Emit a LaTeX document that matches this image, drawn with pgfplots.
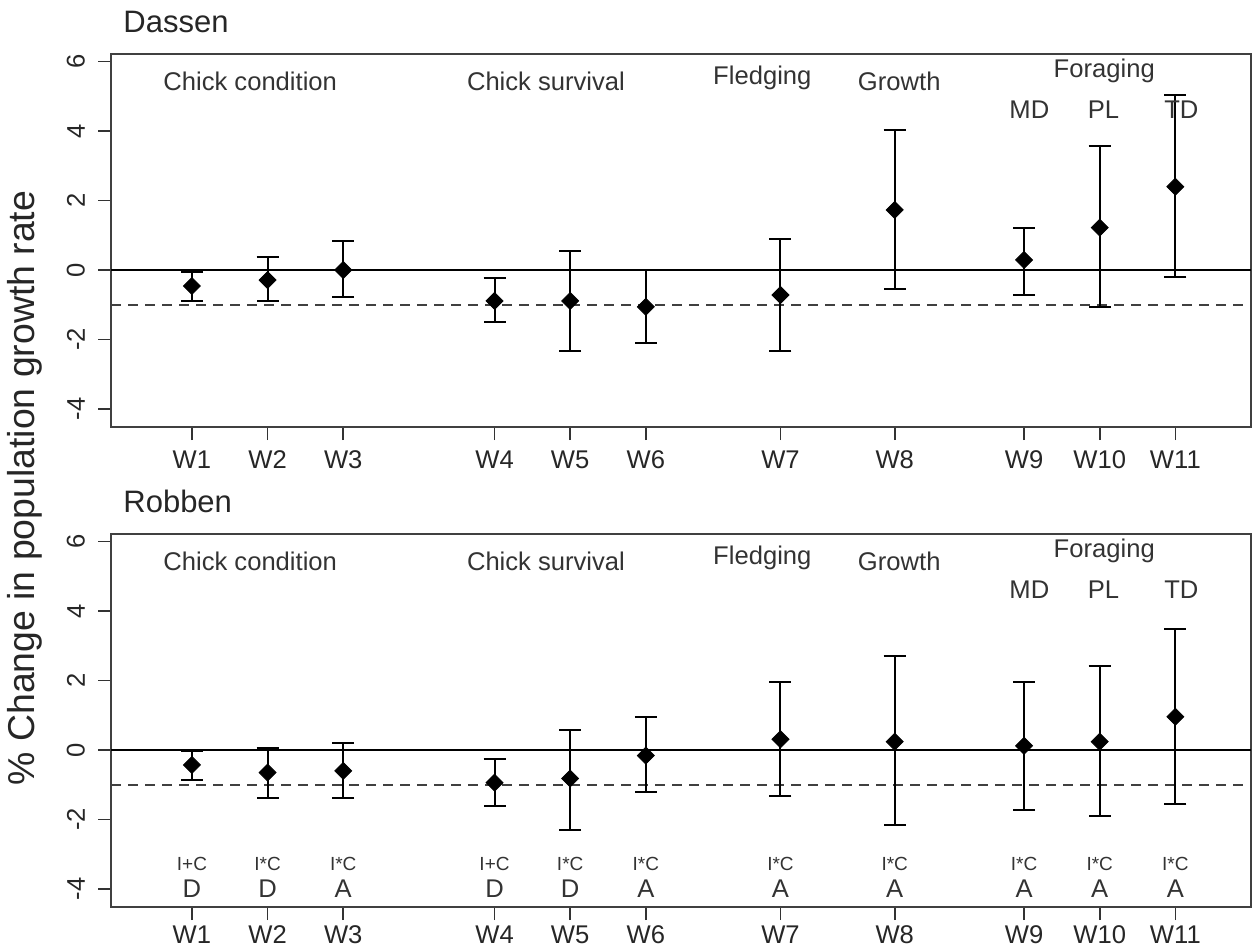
\documentclass[border=0pt]{standalone}
\usepackage{pgfplots}
\pgfplotsset{compat=1.18}
\usepackage{pgfplotstable}
\usepackage{fontspec}
\setmainfont{Liberation Sans}

\pgfplotstableread{
x y hi lo
1 -0.46 -0.05 -0.88
2 -0.29 0.38 -0.89
3 0.00 0.85 -0.77
5 -0.89 -0.22 -1.51
6 -0.89 0.56 -2.33
7 -1.06 0.00 -2.11
8.78 -0.72 0.89 -2.33
10.29 1.73 4.03 -0.56
12 0.29 1.22 -0.72
13 1.22 3.58 -1.06
14 2.40 5.04 -0.21
}\dassen

\pgfplotstableread{
x y hi lo
1 -0.43 -0.03 -0.86
2 -0.65 0.07 -1.37
3 -0.60 0.19 -1.37
5 -0.94 -0.27 -1.61
6 -0.82 0.58 -2.29
7 -0.16 0.96 -1.22
8.78 0.31 1.97 -1.33
10.29 0.24 2.71 -2.16
12 0.12 1.97 -1.73
13 0.24 2.42 -1.89
14 0.96 3.48 -1.54
}\robben

\definecolor{txt}{HTML}{333333}
\newcommand{\mainsize}{\fontsize{12.8}{15}\selectfont}
\newcommand{\smallsize}{\fontsize{9.5}{11}\selectfont}

\pgfplotsset{
  panel/.style={
    scale only axis,
    width=570pt, height=186.5pt,
    anchor=south west,
    xmin=-0.07, xmax=15, ymin=-4.52, ymax=6.22,
    xtick={1,2,3,5,6,7,8.78,10.29,12,13,14},
    xticklabels={W1,W2,W3,W4,W5,W6,W7,W8,W9,W10,W11},
    ytick={-4,-2,0,2,4,6},
    yticklabels={-4,-2,0,2,4,6},
    xtick pos=bottom, ytick pos=left,
    tick align=outside,
    x tick style={line width=0.8pt, black!80},
    y tick style={line width=0.8pt, black!80},
    major tick length=6.5pt,
    axis line style={line width=1pt, black!75},
    tick label style={font=\mainsize, text=black!85},
    yticklabel style={rotate=90, anchor=south},
    yticklabel shift=3pt,
    xticklabel style={anchor=north},
    xticklabel shift=2pt,
    clip=false,
  },
  dat/.style={
    only marks, black,
    mark=square*, mark size=3pt,
    mark options={rotate=45, fill=black, draw=black},
    error bars/.cd,
      y dir=both, y explicit,
      error bar style={line width=1pt, black},
      error mark options={rotate=90, mark size=5.5pt, line width=1pt, black},
  },
}

\begin{document}
\begin{tikzpicture}[x=1pt,y=1pt]
\useasboundingbox (0,0) rectangle (626,-475.5);

% y label
\node[rotate=90, font=\fontsize{18.7}{21}\selectfont, text=black!85] at (12.5,-244) {\% Change in population growth rate};
% panel titles
\node[anchor=base west, font=\fontsize{15.5}{18}\selectfont, text=black!85, inner sep=0pt] at (61.5,-16.5) {Dassen};
\node[anchor=base west, font=\fontsize{15.5}{18}\selectfont, text=black!85, inner sep=0pt] at (61.5,-256.5) {Robben};

% ---------- Dassen ----------
\begin{axis}[panel, at={(55.5pt,-213.5pt)}]
\addplot[black, line width=0.8pt, forget plot] coordinates {(-0.07,0) (15,0)};
\addplot[black!75, line width=0.8pt, dash pattern=on 5pt off 3.5pt, forget plot] coordinates {(-0.07,-1) (15,-1)};
\addplot[dat] table[x=x, y=y, y error plus expr=\thisrow{hi}-\thisrow{y}, y error minus expr=\thisrow{y}-\thisrow{lo}] {\dassen};
\node[font=\mainsize, text=txt] at (axis cs:1.77,5.42) {Chick condition};
\node[font=\mainsize, text=txt] at (axis cs:5.68,5.42) {Chick survival};
\node[font=\mainsize, text=txt] at (axis cs:8.54,5.53) {Fledging};
\node[font=\mainsize, text=txt] at (axis cs:10.35,5.42) {Growth};
\node[font=\mainsize, text=txt] at (axis cs:13.06,5.74) {Foraging};
\node[font=\mainsize, text=txt] at (axis cs:12.07,4.63) {MD};
\node[font=\mainsize, text=txt] at (axis cs:13.05,4.63) {PL};
\node[font=\mainsize, text=txt] at (axis cs:14.08,4.63) {TD};
\end{axis}

% ---------- Robben ----------
\begin{axis}[panel, at={(55.5pt,-453.5pt)}, xticklabel shift=-0.5pt]
\addplot[black, line width=0.8pt, forget plot] coordinates {(-0.07,0) (15,0)};
\addplot[black!75, line width=0.8pt, dash pattern=on 5pt off 3.5pt, forget plot] coordinates {(-0.07,-1) (15,-1)};
\addplot[dat] table[x=x, y=y, y error plus expr=\thisrow{hi}-\thisrow{y}, y error minus expr=\thisrow{y}-\thisrow{lo}] {\robben};
\node[font=\mainsize, text=txt] at (axis cs:1.77,5.42) {Chick condition};
\node[font=\mainsize, text=txt] at (axis cs:5.68,5.42) {Chick survival};
\node[font=\mainsize, text=txt] at (axis cs:8.54,5.53) {Fledging};
\node[font=\mainsize, text=txt] at (axis cs:10.35,5.42) {Growth};
\node[font=\mainsize, text=txt] at (axis cs:13.06,5.74) {Foraging};
\node[font=\mainsize, text=txt] at (axis cs:12.07,4.63) {MD};
\node[font=\mainsize, text=txt] at (axis cs:13.05,4.63) {PL};
\node[font=\mainsize, text=txt] at (axis cs:14.08,4.63) {TD};
% interaction / direction annotations
\node[font=\smallsize, text=txt] at (axis cs:1,-3.29) {I+C};
\node[font=\smallsize, text=txt] at (axis cs:2,-3.29) {I*C};
\node[font=\smallsize, text=txt] at (axis cs:3,-3.29) {I*C};
\node[font=\smallsize, text=txt] at (axis cs:5,-3.29) {I+C};
\node[font=\smallsize, text=txt] at (axis cs:6,-3.29) {I*C};
\node[font=\smallsize, text=txt] at (axis cs:7,-3.29) {I*C};
\node[font=\smallsize, text=txt] at (axis cs:8.78,-3.29) {I*C};
\node[font=\smallsize, text=txt] at (axis cs:10.29,-3.29) {I*C};
\node[font=\smallsize, text=txt] at (axis cs:12,-3.29) {I*C};
\node[font=\smallsize, text=txt] at (axis cs:13,-3.29) {I*C};
\node[font=\smallsize, text=txt] at (axis cs:14,-3.29) {I*C};
\node[font=\mainsize, text=txt] at (axis cs:1,-3.99) {D};
\node[font=\mainsize, text=txt] at (axis cs:2,-3.99) {D};
\node[font=\mainsize, text=txt] at (axis cs:3,-3.99) {A};
\node[font=\mainsize, text=txt] at (axis cs:5,-3.99) {D};
\node[font=\mainsize, text=txt] at (axis cs:6,-3.99) {D};
\node[font=\mainsize, text=txt] at (axis cs:7,-3.99) {A};
\node[font=\mainsize, text=txt] at (axis cs:8.78,-3.99) {A};
\node[font=\mainsize, text=txt] at (axis cs:10.29,-3.99) {A};
\node[font=\mainsize, text=txt] at (axis cs:12,-3.99) {A};
\node[font=\mainsize, text=txt] at (axis cs:13,-3.99) {A};
\node[font=\mainsize, text=txt] at (axis cs:14,-3.99) {A};
\end{axis}
\end{tikzpicture}
\end{document}
